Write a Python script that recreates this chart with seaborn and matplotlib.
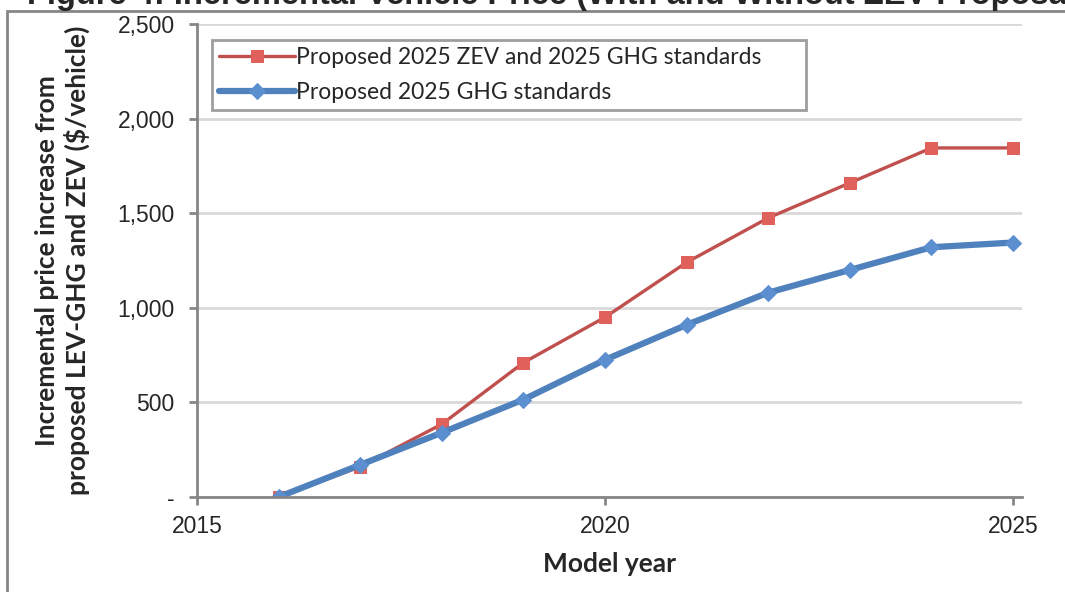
import pandas as pd
import matplotlib.pyplot as plt
import matplotlib.patches as patches
from matplotlib.ticker import FuncFormatter
import seaborn as sns

# Data
years = [2016, 2017, 2018, 2019, 2020, 2021, 2022, 2023, 2024, 2025]
zev_ghg = [0, 160, 385, 710, 950, 1240, 1475, 1660, 1845, 1845]
ghg_only = [0, 170, 340, 515, 725, 910, 1080, 1200, 1320, 1345]
series_names = ['Proposed 2025 ZEV and 2025 GHG standards', 'Proposed 2025 GHG standards']

df_zev = pd.DataFrame({'Year': years, 'Price': zev_ghg})
df_ghg = pd.DataFrame({'Year': years, 'Price': ghg_only})

sns.set_style('white')
plt.rcParams['font.family'] = ['Liberation Sans', 'DejaVu Sans']

fig = plt.figure(figsize=(10.65, 5.92), dpi=100)
ax = fig.add_axes([197 / 1065, 1 - 497 / 592, (1022 - 197) / 1065, (497 - 24) / 592])

red = '#C0504D'
blue = '#4F81BD'

sns.lineplot(data=df_zev, x='Year', y='Price', ax=ax, color=red, linewidth=2.4,
             marker='s', markersize=8.5, markerfacecolor='#E0605C', markeredgecolor='#E0605C',
             label=series_names[0])
sns.lineplot(data=df_ghg, x='Year', y='Price', ax=ax, color=blue, linewidth=4.5,
             marker='D', markersize=8, markerfacecolor='#5B8FD0', markeredgecolor='#5B8FD0',
             label=series_names[1])

ax.set_xlim(2015, 2025.11)
ax.set_ylim(0, 2500)
ax.set_xticks([2015, 2020, 2025])
ax.set_yticks([0, 500, 1000, 1500, 2000, 2500])
ax.yaxis.set_major_formatter(FuncFormatter(lambda v, p: '-' if v == 0 else f'{int(v):,}'))

ax.grid(axis='y', color='#D9D9D9', linewidth=2)
ax.set_axisbelow(True)
for s in ['top', 'right']:
    ax.spines[s].set_visible(False)
for s in ['left', 'bottom']:
    ax.spines[s].set_color('#868686')
    ax.spines[s].set_linewidth(2)
ax.tick_params(axis='both', which='major', direction='out', length=6, width=2,
               color='#868686', labelsize=16.5, pad=7, left=True, bottom=True)
ax.tick_params(axis='y', pad=10)

label_font = {'family': 'Lato', 'weight': 'bold', 'size': 19}
ax.set_xlabel('Model year', fontdict=label_font, labelpad=10)
ax.set_ylabel('Incremental price increase from\nproposed LEV-GHG and ZEV ($/vehicle)',
              fontdict=label_font, labelpad=20, linespacing=1.22)

leg = ax.legend(loc='upper left', mode='expand',
                bbox_to_anchor=(15 / 825, 1 - 16 / 473, (806 - 212) / 825, 0.0),
                prop={'family': 'Lato', 'size': 16.5}, frameon=True, fancybox=False,
                handlelength=3.3, handletextpad=0.05, borderpad=0.3, labelspacing=0.62,
                borderaxespad=0)
leg.get_frame().set_edgecolor('#868686')
leg.get_frame().set_linewidth(2)

# Cropped title and chart border, as in the source document
fig.text(27 / 1065, 1 - 4 / 592, 'Figure 4: Incremental Vehicle Price (With and Without ZEV Proposal)',
         fontsize=23.5, fontweight='bold', va='baseline', ha='left')
fig.patches.append(patches.Rectangle((7 / 1065, -0.5), 2, 1.5 - 11 / 592, fill=False,
                                     edgecolor='#868686', linewidth=2,
                                     transform=fig.transFigure))

fig.savefig('out.png', dpi=100)
